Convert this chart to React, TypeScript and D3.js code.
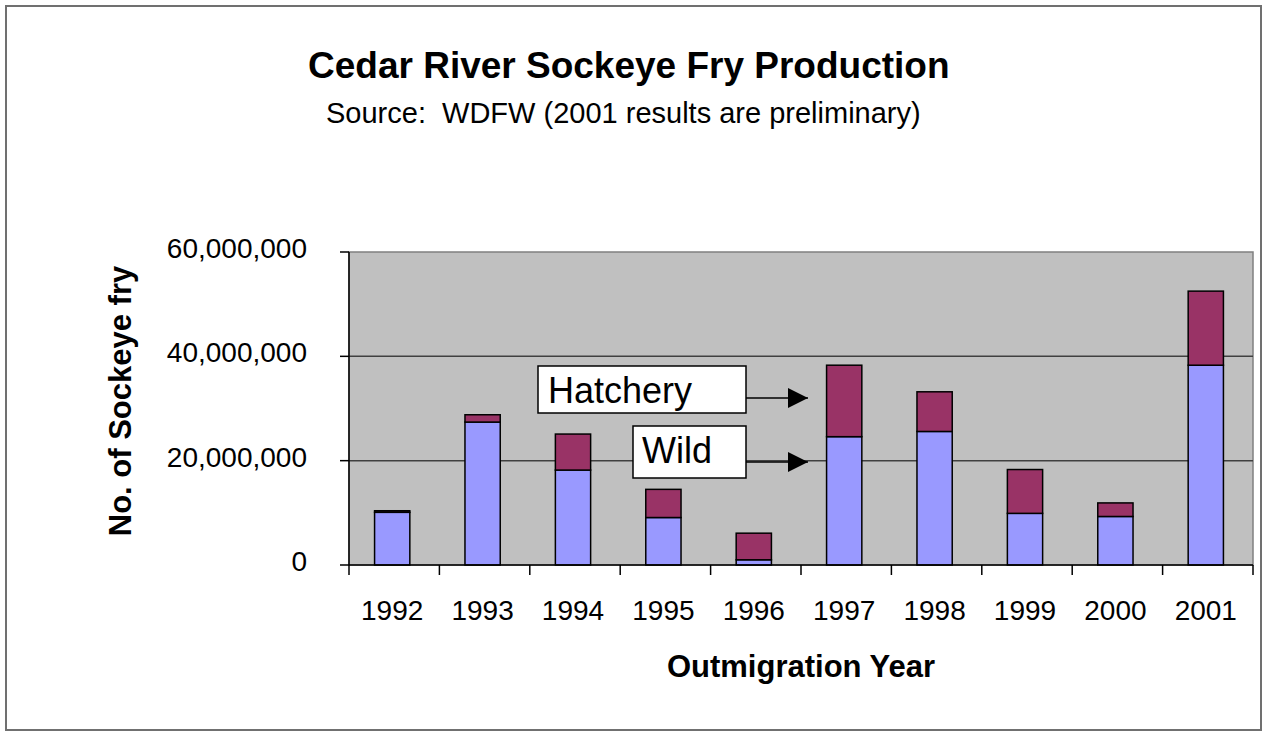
import React from 'react';
import * as d3 from 'd3';

// values in millions of fry
const years = ['1992', '1993', '1994', '1995', '1996', '1997', '1998', '1999', '2000', '2001'];
const wild = [10.1, 27.4, 18.2, 9.1, 1.0, 24.6, 25.6, 9.9, 9.3, 38.3];
const hatchery = [0.3, 1.4, 6.9, 5.4, 5.1, 13.7, 7.6, 8.4, 2.6, 14.2];
const yTicks = [0, 20, 40, 60];
const seriesNames = ['Wild', 'Hatchery'];
const seriesColors = ['#9999FF', '#993366'];

const W = 1267;
const H = 736;
const plot = { left: 349, right: 1253, top: 252, bottom: 565 };
const font = '"Liberation Sans", Arial, sans-serif';

const App = () => {
  const x = d3.scaleBand().domain(years).range([plot.left, plot.right]).padding(0);
  const y = d3.scaleLinear().domain([0, 60]).range([plot.bottom, plot.top]);
  const barW = x.bandwidth() * 0.39;
  const fmt = d3.format(',');

  const rows = years.map((yr, i) => ({ year: yr, Wild: wild[i], Hatchery: hatchery[i] }));
  const stacked = d3.stack().keys(seriesNames)(rows as any);

  const boundaries = d3.range(years.length + 1).map(i => plot.left + i * x.step());

  // annotation boxes pointing at the 1997 bar
  const arrowEnd = (x(years[5]) as number) + 7;
  const notes = [
    { label: 'Hatchery', box: [538, 366, 208, 47], tx: 548, ty: 403, ay: 398 },
    { label: 'Wild', box: [633, 426, 113, 52], tx: 642, ty: 463, ay: 462 },
  ];

  return (
    <svg width={W} height={H} style={{ position: 'absolute', left: 0, top: 0 }} fontFamily={font}>
      <defs>
        <marker id="head" viewBox="0 0 10 10" refX="10" refY="5" markerWidth="20" markerHeight="20"
          markerUnits="userSpaceOnUse" orient="auto">
          <path d="M0,0 L10,5 L0,10 Z" fill="#000" />
        </marker>
      </defs>
      <rect x={0} y={0} width={W} height={H} fill="#fff" />
      <rect x={6} y={6} width={1255} height={724} fill="none" stroke="#707070" strokeWidth={2} />

      <text x={308} y={78} fontSize={37} fontWeight="bold">Cedar River Sockeye Fry Production</text>
      <text x={326} y={123} fontSize={29} style={{ whiteSpace: 'pre' }}>
        {'Source:  WDFW (2001 results are preliminary)'}
      </text>

      {/* plot area */}
      <rect x={plot.left} y={plot.top} width={plot.right - plot.left} height={plot.bottom - plot.top}
        fill="#C0C0C0" stroke="#808080" strokeWidth={1.5} />
      {yTicks.filter(t => t > 0 && t < 60).map(t => (
        <line key={t} x1={plot.left} x2={plot.right} y1={y(t)} y2={y(t)} stroke="#404040" strokeWidth={1.5} />
      ))}

      {stacked.map((layer, si) => (
        <g key={seriesNames[si]} fill={seriesColors[si]} stroke="#000" strokeWidth={1.5}>
          {layer.map((d, i) => (
            <rect key={i} x={(x(years[i]) as number) + (x.bandwidth() - barW) / 2 - 2} width={barW}
              y={y(d[1])} height={y(d[0]) - y(d[1])} />
          ))}
        </g>
      ))}

      {/* axes */}
      <line x1={plot.left} x2={plot.left} y1={plot.top} y2={plot.bottom} stroke="#000" strokeWidth={1.5} />
      <line x1={plot.left} x2={plot.right} y1={plot.bottom} y2={plot.bottom} stroke="#000" strokeWidth={1.5} />
      {yTicks.map(t => (
        <g key={t}>
          <line x1={plot.left - 9} x2={plot.left} y1={y(t)} y2={y(t)} stroke="#000" strokeWidth={1.5} />
          <text x={307} y={y(t) + 6} fontSize={28} textAnchor="end">{fmt(t * 1000000)}</text>
        </g>
      ))}
      {boundaries.map((bx, i) => (
        <line key={i} x1={bx} x2={bx} y1={plot.bottom} y2={plot.bottom + 10} stroke="#000" strokeWidth={1.5} />
      ))}
      {years.map(yr => (
        <text key={yr} x={(x(yr) as number) + x.bandwidth() / 2 - 2} y={620} fontSize={28} textAnchor="middle">{yr}</text>
      ))}

      <text x={801} y={677} fontSize={31} fontWeight="bold" textAnchor="middle">Outmigration Year</text>
      <text transform="translate(131,401) rotate(-90)" fontSize={31} fontWeight="bold" textAnchor="middle">
        No. of Sockeye fry
      </text>

      {notes.map(n => (
        <g key={n.label}>
          <rect x={n.box[0]} y={n.box[1]} width={n.box[2]} height={n.box[3]} fill="#fff" stroke="#000" strokeWidth={1.5} />
          <text x={n.tx} y={n.ty} fontSize={36}>{n.label}</text>
          <line x1={n.box[0] + n.box[2]} x2={arrowEnd} y1={n.ay} y2={n.ay} stroke="#000" strokeWidth={1.5}
            markerEnd="url(#head)" />
        </g>
      ))}
    </svg>
  );
};

export default App;
